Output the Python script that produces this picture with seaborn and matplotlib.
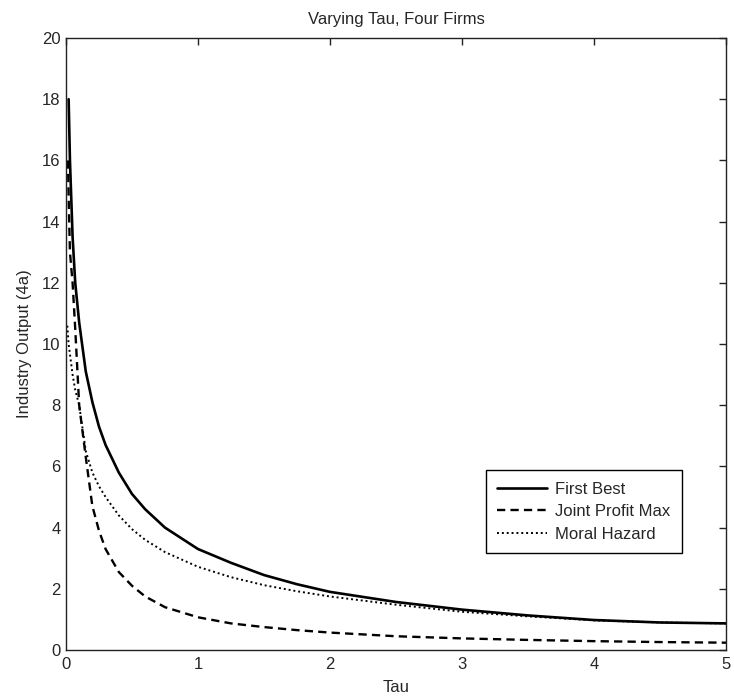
import matplotlib
matplotlib.use("Agg")
import matplotlib.pyplot as plt
import seaborn as sns

# Industry output against tau for the three regimes
tau_fb = [0.02, 0.03, 0.05, 0.07, 0.1, 0.15, 0.2, 0.25, 0.3, 0.4, 0.5, 0.6, 0.75,
          1.0, 1.25, 1.5, 1.75, 2.0, 2.5, 3.0, 3.5, 4.0, 4.5, 5.0]
first_best = [18.0, 16.0, 13.5, 12.0, 10.7, 9.1, 8.1, 7.3, 6.7, 5.8, 5.1, 4.6, 4.0,
              3.3, 2.85, 2.45, 2.15, 1.9, 1.57, 1.32, 1.13, 0.98, 0.9, 0.87]

tau_jpm = [0.015, 0.02, 0.03, 0.05, 0.07, 0.1, 0.15, 0.2, 0.25, 0.3, 0.4, 0.5, 0.6, 0.75,
           1.0, 1.25, 1.5, 1.75, 2.0, 2.5, 3.0, 3.5, 4.0, 4.5, 5.0]
joint_profit_max = [16.0, 14.8, 13.0, 12.0, 10.5, 8.0, 6.3, 4.7, 3.9, 3.3, 2.55, 2.1, 1.75, 1.4,
                    1.07, 0.87, 0.75, 0.65, 0.57, 0.45, 0.38, 0.33, 0.29, 0.26, 0.24]

tau_mh = [0.01, 0.02, 0.05, 0.07, 0.1, 0.15, 0.2, 0.25, 0.3, 0.4, 0.5, 0.6, 0.75,
          1.0, 1.25, 1.5, 1.75, 2.0, 2.5, 3.0, 3.5, 4.0, 4.5, 5.0]
moral_hazard = [10.6, 10.0, 9.0, 8.5, 8.0, 6.5, 5.8, 5.35, 5.0, 4.4, 3.95, 3.6, 3.2,
                2.72, 2.38, 2.12, 1.92, 1.75, 1.48, 1.25, 1.1, 0.97, 0.9, 0.87]

x_ticks = [0, 1, 2, 3, 4, 5]
y_ticks = [0, 2, 4, 6, 8, 10, 12, 14, 16, 18, 20]

sns.set_style("white")
plt.rcParams["font.family"] = ["Liberation Sans", "DejaVu Sans"]
plt.rcParams["xtick.direction"] = "in"
plt.rcParams["ytick.direction"] = "in"

fig = plt.figure(figsize=(7.34, 7.0), dpi=100)
ax = fig.add_axes([0.0899, 0.0714, 0.8992, 0.8743])

sns.lineplot(x=tau_fb, y=first_best, ax=ax, color="black", linewidth=1.9,
             linestyle="-", label="First Best")
sns.lineplot(x=tau_jpm, y=joint_profit_max, ax=ax, color="black", linewidth=1.7,
             linestyle=(0, (3.5, 2.2)), label="Joint Profit Max")
sns.lineplot(x=tau_mh, y=moral_hazard, ax=ax, color="black", linewidth=1.4,
             linestyle=(0, (1, 1.5)), label="Moral Hazard")

ax.set_xlim(0, 5)
ax.set_ylim(0, 20)
ax.set_xticks(x_ticks)
ax.set_yticks(y_ticks)
ax.tick_params(axis="both", which="both", direction="in", length=5, width=1,
               top=True, right=True, labelsize=12, color="#222222")
ax.tick_params(axis="x", pad=5)
ax.tick_params(axis="y", pad=4)
for s in ax.spines.values():
    s.set_visible(True)
    s.set_linewidth(1.0)
    s.set_color("#222222")

ax.set_title("Varying Tau, Four Firms", fontsize=12, pad=10)
ax.set_xlabel("Tau", fontsize=12, labelpad=6)
ax.set_ylabel("Industry Output (4a)", fontsize=12, labelpad=7)

leg = ax.legend(loc="lower right", bbox_to_anchor=(0.933, 0.158), fontsize=12,
                frameon=True, fancybox=False, framealpha=1, edgecolor="black",
                handlelength=3.0, borderpad=0.7, labelspacing=0.45,
                handletextpad=0.45, borderaxespad=0)
leg.get_frame().set_linewidth(1.0)

fig.savefig("out.png", dpi=100)
